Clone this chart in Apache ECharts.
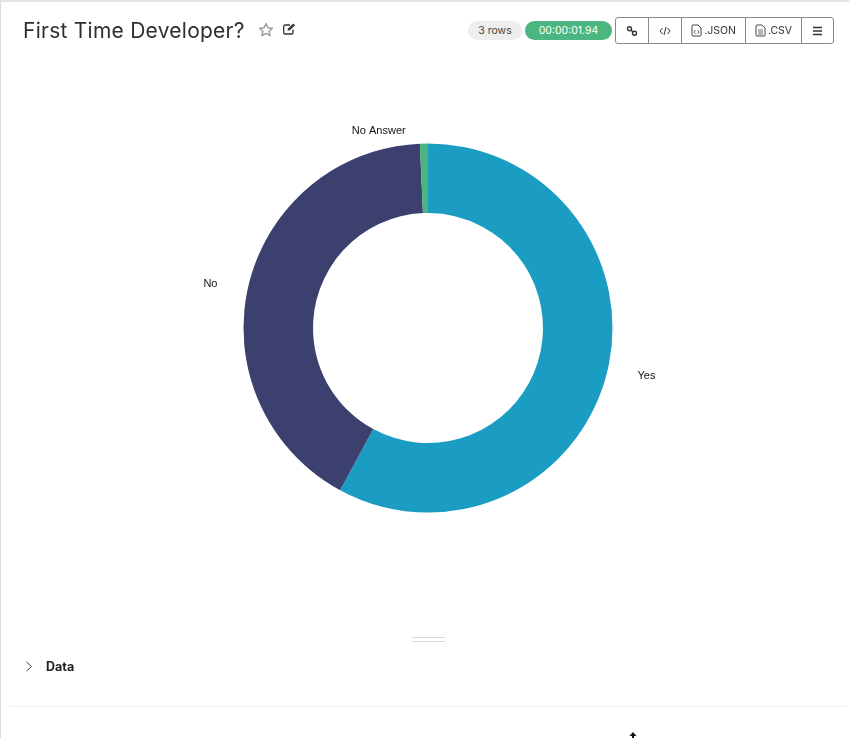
<!DOCTYPE html>
<html lang="en">
<head>
<meta charset="UTF-8">
<title>First Time Developer?</title>
<script src="https://cdn.jsdelivr.net/npm/echarts@6/dist/echarts.min.js"></script>
<style>
  html, body { margin: 0; padding: 0; width: 850px; height: 738px; background: #fff; overflow: hidden; font-family: Inter, sans-serif; color: #2b2b2b; }
  #frame { position: absolute; left: 0; top: 0; width: 849px; height: 738px; border-top: 2px solid #e4e4e4; border-left: 1px solid #dedede; box-sizing: border-box; }
  #main { position: absolute; left: 0; top: 0; width: 850px; height: 738px; }
  .abs { position: absolute; }
  #title { left: 23px; top: 16px; font-size: 21px; line-height: 29px; letter-spacing: 0.25px; color: #2e2e2e; white-space: nowrap; }
  .pill { top: 21px; height: 19px; line-height: 19px; border-radius: 10px; font-size: 10.5px; text-align: center; }
  #rows { left: 468px; width: 54px; background: #eeeeee; color: #444; }
  #time { left: 525px; width: 87px; background: #4cb680; color: #fff; }
  #btns { left: 615px; top: 17px; width: 219px; height: 27px; border: 1px solid #8a8a8a; border-radius: 3px; box-sizing: border-box; display: flex; background: #fff; }
  #btns div { border-right: 1px solid #8a8a8a; box-sizing: border-box; font-size: 10.5px; color: #333; display: flex; align-items: center; justify-content: center; gap: 2px; }
  #btns div:last-child { border-right: none; }
  #grip { left: 412px; top: 637px; width: 33px; height: 3px; border-top: 1px solid #d8d8d8; border-bottom: 1px solid #d8d8d8; }
  #data { left: 46px; top: 658px; font-size: 12.5px; line-height: 17px; font-weight: 700; color: #222; }
  #rule { left: 10px; top: 706px; width: 836px; height: 1px; background: #eeeeee; }
</style>
</head>
<body>
<div id="frame"></div>
<div id="main"></div>

<div id="title" class="abs">First Time Developer?</div>
<svg class="abs" style="left:258px;top:22px" width="16" height="16" viewBox="0 0 16 16"><path d="M8 1.600l1.900 4.100 4.500.5-3.300 3 .9 4.400L8 11.400l-4 2.200.9-4.400-3.300-3 4.500-.5z" fill="none" stroke="#9a9a9a" stroke-width="1.400" stroke-linejoin="round"/></svg>
<svg class="abs" style="left:282px;top:22px" width="15" height="14" viewBox="0 0 15 14"><path d="M11 7.500v3.200a1.300 1.300 0 0 1-1.300 1.300H3a1.300 1.300 0 0 1-1.300-1.300V4.300A1.300 1.300 0 0 1 3 3h5" fill="none" stroke="#333" stroke-width="1.300"/><path d="M5.500 8.800l.5-2.300 5.200-5 1.900 1.800-5.300 5z" fill="#333"/></svg>

<div id="rows" class="abs pill">3 rows</div>
<div id="time" class="abs pill">00:00:01.94</div>

<div id="btns" class="abs">
  <div style="width:33px"><svg width="12" height="12" viewBox="0 0 12 12"><g fill="none" stroke="#333" stroke-width="1.400"><circle cx="3.500" cy="3.800" r="2"/><circle cx="8.500" cy="8.200" r="2"/><path d="M5 5l2 2"/></g></svg></div>
  <div style="width:33px"><svg width="12" height="10" viewBox="0 0 12 10"><path d="M3.500 2L1 5l2.500 3M8.500 2L11 5 8.500 8M7 1L5 9" fill="none" stroke="#333" stroke-width="1"/></svg></div>
  <div style="width:64px"><svg width="11" height="13" viewBox="0 0 11 13"><path d="M1 2a1 1 0 0 1 1-1h5l3 3v7a1 1 0 0 1-1 1H2a1 1 0 0 1-1-1z" fill="none" stroke="#444" stroke-width="1"/><path d="M4.500 6L3 8l1.500 2M6.500 6L8 8l-1.500 2" fill="none" stroke="#444" stroke-width=".8"/></svg><span>.JSON</span></div>
  <div style="width:56px"><svg width="11" height="13" viewBox="0 0 11 13"><path d="M1 2a1 1 0 0 1 1-1h5l3 3v7a1 1 0 0 1-1 1H2a1 1 0 0 1-1-1z" fill="none" stroke="#444" stroke-width="1"/><path d="M3 6h5M3 8h5M3 10h5" stroke="#444" stroke-width=".8"/></svg><span>.CSV</span></div>
  <div style="flex:1"><svg width="11" height="10" viewBox="0 0 11 10"><path d="M1 1.500h9M1 5h9M1 8.500h9" stroke="#333" stroke-width="1.500"/></svg></div>
</div>

<div id="grip" class="abs"></div>
<svg class="abs" style="left:25px;top:661px" width="9" height="11" viewBox="0 0 9 11"><path d="M1.500 1l5 4.500-5 4.500" fill="none" stroke="#444" stroke-width="1"/></svg>
<div id="data" class="abs">Data</div>
<div id="rule" class="abs"></div>
<svg class="abs" style="left:628px;top:732px" width="10" height="6" viewBox="0 0 10 6"><path d="M5 0L8.500 4H6V6H4V4H1.500z" fill="#111"/></svg>

<script>
// share of answers
var categories = ['Yes', 'No', 'No Answer'];
var values = [57.9, 41.4, 0.7];
var colors = ['#1a9cc3', '#3c406f', '#4ab47f'];

var pieData = [];
for (var i = 0; i < categories.length; i++) {
  pieData.push({ name: categories[i], value: values[i], itemStyle: { color: colors[i] } });
}
// the small top slice sits a bit higher and closer in
pieData[2].labelLine = { show: false, length: 13, length2: 13 };

var myChart = echarts.init(document.getElementById('main'));
myChart.setOption({
  animation: false,
  series: [
    {
      type: 'pie',
      center: [428, 328],
      radius: [115, 184.5],
      startAngle: 90,
      clockwise: true,
      avoidLabelOverlap: false,
      data: pieData,
      label: {
        show: true,
        position: 'outside',
        formatter: '{b}',
        color: '#111',
        fontSize: 11,
        fontFamily: 'Liberation Sans'
      },
      labelLine: { show: false, length: 10, length2: 16 }
    }
  ]
});
</script>
</body>
</html>
